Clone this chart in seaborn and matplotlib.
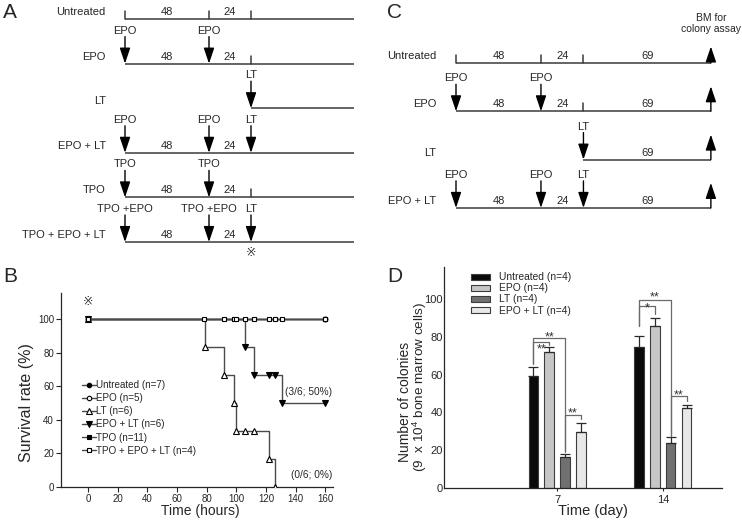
import numpy as np
import pandas as pd
import matplotlib
matplotlib.use('Agg')
import matplotlib.pyplot as plt
import seaborn as sns

sns.set_style('ticks')
plt.rcParams['font.family'] = ['Liberation Sans', 'DejaVu Sans']
plt.rcParams['mathtext.default'] = 'regular'

# ---------------- data ----------------
# panel A: treatment schedule (hours)
a_rows = ['Untreated', 'EPO', 'LT', 'EPO + LT', 'TPO', 'TPO + EPO + LT']
a_start = [0, 0, 72, 0, 0, 0]
a_end = 131
a_doses = [[], [(0, 'EPO'), (48, 'EPO')], [(72, 'LT')],
           [(0, 'EPO'), (48, 'EPO'), (72, 'LT')],
           [(0, 'TPO'), (48, 'TPO')],
           [(0, 'TPO +EPO'), (48, 'TPO +EPO'), (72, 'LT')]]
a_marks = [[0, 48, 72], [72], [], [], [72], []]
a_spans = [[(0, 48, '48'), (48, 72, '24')], [(0, 48, '48'), (48, 72, '24')], [],
           [(0, 48, '48'), (48, 72, '24')], [(0, 48, '48'), (48, 72, '24')],
           [(0, 48, '48'), (48, 72, '24')]]

# panel C: schedule before bone marrow harvest
c_rows = ['Untreated', 'EPO', 'LT', 'EPO + LT']
c_start = [0, 0, 72, 0]
c_end = 144
c_doses = [[], [(0, 'EPO'), (48, 'EPO')], [(72, 'LT')],
           [(0, 'EPO'), (48, 'EPO'), (72, 'LT')]]
c_marks = [[0, 48, 72], [72], [], []]
c_spans = [[(0, 48, '48'), (48, 72, '24'), (72, 144, '69')],
           [(0, 48, '48'), (48, 72, '24'), (72, 144, '69')],
           [(72, 144, '69')],
           [(0, 48, '48'), (48, 72, '24'), (72, 144, '69')]]

# panel B: survival (Kaplan-Meier)
full_t = [0, 160]
full_s = [100, 100]
lt_t = [0, 79, 92, 98.7, 99.8, 106, 112, 122, 126]
lt_s = [100, 83.3, 66.7, 50, 33.3, 33.3, 33.3, 16.7, 0]
epolt_t = [0, 106, 112, 122, 126, 131, 160]
epolt_s = [100, 83.3, 66.7, 66.7, 66.7, 50, 50]
combo_t = [0, 78, 92, 98.5, 100, 106, 112, 122, 126, 131, 160]
combo_s = [100] * len(combo_t)
b_labels = ['Untreated (n=7)', 'EPO (n=5)', 'LT (n=6)', 'EPO + LT (n=6)',
            'TPO (n=11)', 'TPO + EPO + LT (n=4)']

# panel D: colony numbers
days = ['7', '14']
groups = ['Untreated (n=4)', 'EPO (n=4)', 'LT (n=4)', 'EPO + LT (n=4)']
mean_d7 = [59.3, 71.8, 16.3, 29.7]
mean_d14 = [74.9, 85.8, 23.9, 42.1]
err_d7 = [5.0, 3.1, 1.5, 4.6]
err_d14 = [5.6, 4.3, 3.0, 2.1]
bar_colors = ['#0a0a0a', '#c6c6c6', '#707070', '#e8e8e8']
# significance brackets: day, group a, group b, line y, leg a bottom, leg b bottom, text, text y
sig = [(0, 0, 2, 79.5, 65.5, 18.8, '**', 82.0),
       (0, 0, 1, 77.3, 65.5, 75.6, '**', 75.5),
       (0, 2, 3, 38.4, 19.4, 36.4, '**', 41.6),
       (1, 0, 2, 99.6, 85.8, 27.4, '**', 103.2),
       (1, 0, 1, 96.1, 85.8, 92.0, '*', 97.3),
       (1, 2, 3, 48.5, 28.0, 46.0, '**', 51.5)]

# ---------------- figure ----------------
W, H = 742, 524
fig = plt.figure(figsize=(W / 100, H / 100), dpi=100)


def box(x0, y0, x1, y1):
    return [x0 / W, 1 - y1 / H, (x1 - x0) / W, (y1 - y0) / H]


line_col = '#3a3a3a'
fs = 8


def draw_schedule(ax, rows, starts, end, doses, marks, spans, unit, up_len=None):
    # unit = pixels per row, offsets below in pixels
    arrow_kw = dict(arrowstyle='-|>,head_length=0.95,head_width=0.32', mutation_scale=10,
                    color='black', lw=1.0, shrinkA=0, shrinkB=0)
    for i, name in enumerate(rows):
        ax.plot([starts[i], end], [i, i], color=line_col, lw=1.1, solid_capstyle='butt')
        ax.text(-11, i - 7 / unit, name, ha='right', va='center', fontsize=fs)
        for t in marks[i]:
            ax.plot([t, t], [i, i - 8 / unit], color=line_col, lw=1.1)
        for a, b, txt in spans[i]:
            ax.text((a + b) / 2, i - 7 / unit, txt, ha='center', va='center', fontsize=fs)
        for t, txt in doses[i]:
            ax.annotate('', xy=(t, i), xytext=(t, i - 27 / unit), arrowprops=arrow_kw)
            ax.text(t, i - 33 / unit, txt, ha='center', va='center', fontsize=fs)
        if up_len is not None:
            ax.annotate('', xy=(end, i - up_len[i] / unit), xytext=(end, i), arrowprops=arrow_kw)


# ---- A ----
axA = fig.add_axes(box(0, 0, 380, 262))
draw_schedule(axA, a_rows, a_start, a_end, a_doses, a_marks, a_spans, 44.6)
axA.text(72, 5.25, '※', ha='center', va='center', fontsize=9)
axA.set_xlim(-125 / 1.75, 255 / 1.75)
axA.set_ylim(243 / 44.6, -19 / 44.6)
axA.axis('off')

# ---- C ----
axC = fig.add_axes(box(380, 0, 742, 240))
draw_schedule(axC, c_rows, c_start, c_end, c_doses, c_marks, c_spans, 48.3,
              up_len=[16.5, 25, 25, 25])
axC.text(c_end, -0.82, 'BM for\ncolony assay', ha='center', va='center',
         fontsize=7.5, linespacing=1.2)
axC.set_xlim(-76 / 1.77, 286 / 1.77)
axC.set_ylim(177 / 48.3, -63 / 48.3)
axC.axis('off')

# ---- B ----
axB = fig.add_axes(box(61, 293, 333, 487))
grey = '#4a4a4a'
common = dict(ax=axB, color=grey, lw=1.0, drawstyle='steps-post',
              estimator=None, errorbar=None, markeredgewidth=0.8, markeredgecolor='black')
sns.lineplot(x=full_t, y=full_s, marker='o', markerfacecolor='black',
             label=b_labels[0], zorder=2, **common)
sns.lineplot(x=full_t, y=full_s, marker='o', markerfacecolor='white',
             label=b_labels[1], zorder=2, **common)
sns.lineplot(x=lt_t, y=lt_s, marker='^', markerfacecolor='white',
             label=b_labels[2], zorder=3, **common)
sns.lineplot(x=epolt_t, y=epolt_s, marker='v', markerfacecolor='black',
             label=b_labels[3], zorder=3, **common)
sns.lineplot(x=full_t, y=full_s, marker='s', markerfacecolor='black',
             label=b_labels[4], zorder=2, **common)
sns.lineplot(x=combo_t, y=combo_s, marker='s', markerfacecolor='white',
             label=b_labels[5], zorder=4, **common)
for ln, size in zip(axB.lines, [3.2, 3.2, 4.0, 4.5, 3.0, 3.2]):
    ln.set_markersize(size)
axB.set_xlim(-18.4, 165.3)
axB.set_ylim(0, 115.6)
axB.set_xticks(np.arange(0, 161, 20))
axB.set_yticks(np.arange(0, 101, 20))
axB.tick_params(labelsize=7, length=3.5, width=0.8, pad=1.5)
for s in ['left', 'bottom']:
    axB.spines[s].set_linewidth(0.9)
sns.despine(ax=axB)
axB.set_xlabel('Time (hours)', fontsize=10)
axB.xaxis.set_label_coords(0.514, -0.088)
axB.set_ylabel('Survival rate (%)', fontsize=11.5)
axB.yaxis.set_label_coords(-0.1, 0.433)
axB.legend(loc='center left', bbox_to_anchor=(0.076, 0.356), frameon=False,
           fontsize=7.1, handlelength=1.45, handletextpad=0.05, labelspacing=0.31,
           borderpad=0, borderaxespad=0)
axB.text(148.5, 56.5, '(3/6; 50%)', ha='center', va='center', fontsize=7.3)
axB.text(151, 7, '(0/6; 0%)', ha='center', va='center', fontsize=7.3)
axB.text(0, 110, '※', ha='center', va='center', fontsize=9)

# ---- D ----
axD = fig.add_axes(box(444, 267, 722, 488))
df = pd.DataFrame({
    'day': np.repeat(days, len(groups)),
    'group': groups * len(days),
    'colonies': mean_d7 + mean_d14,
    'err': err_d7 + err_d14,
})
sns.barplot(data=df, x='day', y='colonies', hue='group', order=days, hue_order=groups,
            palette=bar_colors, width=0.6, gap=0.4, edgecolor='#3c3c3c', linewidth=0.8,
            errorbar=None, ax=axD)
bar_sets = list(axD.containers)
centers = []
for gi, cont in enumerate(bar_sets):
    xs = [p.get_x() + p.get_width() / 2 for p in cont]
    centers.append(xs)
    sub = df[df['group'] == groups[gi]]
    axD.errorbar(xs, sub['colonies'], yerr=[np.zeros(len(sub)), sub['err']], fmt='none',
                 ecolor='#2a2a2a', elinewidth=0.9, capsize=3.5, capthick=0.9, zorder=1)
for d, ga, gb, yl, ya, yb, txt, ty in sig:
    xa, xb = centers[ga][d], centers[gb][d]
    axD.plot([xa, xa, xb, xb], [ya, yl, yl, yb], color='#6a6a6a', lw=0.9)
    axD.annotate(txt, xy=((xa + xb) / 2, ty), xytext=(0, -5.2), textcoords='offset points',
                 ha='center', va='baseline', fontsize=9, color='#333333')
axD.set_xlim(-1.07, 1.56)
axD.set_ylim(0, 117)
axD.set_yticks(np.arange(0, 101, 20))
axD.tick_params(axis='y', labelsize=8, length=0, pad=1)
axD.tick_params(axis='x', labelsize=8, length=2, width=0.8, pad=3)
for s in ['left', 'bottom']:
    axD.spines[s].set_linewidth(0.9)
sns.despine(ax=axD)
axD.set_xlabel('Time (day)', fontsize=10.5)
axD.xaxis.set_label_coords(0.536, -0.072)
axD.set_ylabel('')
axD.text(-0.14, 0.39, 'Number of colonies', rotation=90, ha='center', va='center',
         fontsize=10, transform=axD.transAxes)
axD.text(-0.086, 0.455, '(9  x 10$^4$ bone marrow cells)', rotation=90, ha='center',
         va='center', fontsize=9.7, transform=axD.transAxes)
axD.legend(loc='center left', bbox_to_anchor=(0.097, 0.878), frameon=False, fontsize=7.4,
           handlelength=1.86, handleheight=0.5, handletextpad=0.9, labelspacing=0.1,
           borderpad=0, borderaxespad=0)

# panel letters
for letter, x, y in [('A', 3, 12.5), ('B', 3, 276.5), ('C', 387, 12.5), ('D', 387, 277)]:
    fig.text(x / W, 1 - y / H, letter, fontsize=15, ha='left', va='center')

fig.savefig('out.png', dpi=100)
